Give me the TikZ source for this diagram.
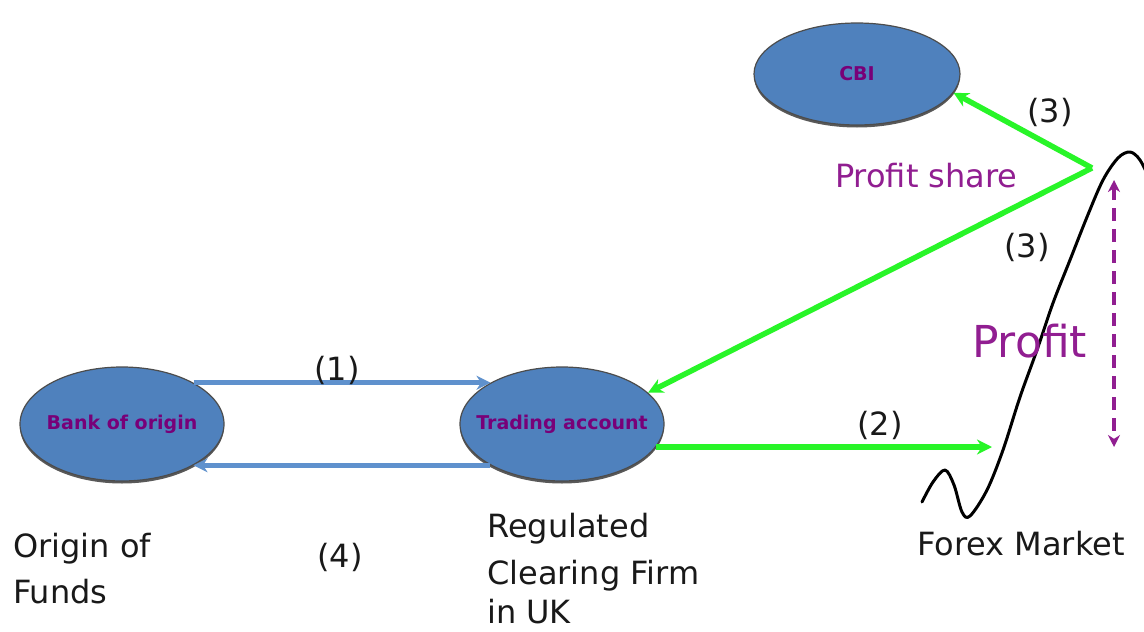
\documentclass[tikz,border=0pt]{standalone}
\usepackage{fontspec}
\setmainfont{DejaVu Sans}
\usetikzlibrary{shapes.geometric,arrows.meta,shadows}
\definecolor{ellblue}{RGB}{79,129,189}
\definecolor{arrblue}{RGB}{95,145,205}
\definecolor{bright}{RGB}{40,245,40}
\definecolor{purp}{RGB}{145,30,145}
\definecolor{dpurp}{RGB}{120,0,120}
\begin{document}
\begin{tikzpicture}[x=1pt,y=-1pt,
  ell/.style={ellipse, fill=ellblue, draw=black!70, line width=1.2pt, inner sep=0pt,
    minimum width=204pt, minimum height=114pt, text=dpurp,
    drop shadow={shadow xshift=0pt, shadow yshift=-2.5pt, fill=black!65, opacity=1},
    font=\bfseries\fontsize{19}{22}\selectfont},
  lbl/.style={font=\fontsize{32}{46}\selectfont, inner sep=0pt, text=black!90},
  lline/.style={lbl, anchor=base west},
  blarrow/.style={draw=arrblue, line width=5pt, -{Stealth[length=14pt,width=14pt]}},
  grarrow/.style={draw=bright, line width=5.5pt, -{Stealth[length=15pt,width=15pt]}},
  pdash/.style={draw=purp, line width=4.5pt, dash pattern=on 13pt off 8pt,
    {Stealth[length=12pt,width=12pt]}-{Stealth[length=12pt,width=12pt]}}
]
\useasboundingbox[fill=white] (0,0) rectangle (1144,632);
\begin{scope}
\clip (0,0) rectangle (1144,632);

% ellipses
\node[ell] (bank) at (122,424) {\makebox[0pt]{Bank of origin}};
\node[ell] (trade) at (562,424) {\makebox[0pt]{Trading account}};
\node[ell, minimum width=206pt, minimum height=102pt] (cbi) at (857,74) {\makebox[0pt]{CBI}};

% blue arrows
\draw[blarrow] (bank.30) -- (trade.150);
\draw[blarrow] (trade.210) -- (bank.330);
\node[lbl] (l1) at (337,370) {(1)};
\node[lbl] (l4) at (340,557) {(4)};

% market curve
\draw[line width=3pt, line cap=round, line join=round, black]
  plot[smooth, tension=0.55] coordinates {(922,502) (933,482) (945,470) (954,485) (962,512) (970,516) (987,490) (1003,450) (1020,397) (1037,350) (1053,303) (1070,260) (1087,217) (1103,180) (1118,158) (1130,152) (1140,160) (1150,180)};

% green arrows
\coordinate (m2) at (992,447);
\draw[grarrow] (trade.-14 |- m2) -- (m2);
\node[lbl] (l2) at (880,425) {(2)};

\coordinate (v) at (1092,168);
\draw[grarrow] (v) -- (trade.20);
\draw[grarrow] (v) -- (cbi.-11);
\node[lbl] (l3a) at (1050,112) {(3)};
\node[lbl] (l3b) at (1027,247) {(3)};

% profit
\coordinate (pt) at (1114,180);
\coordinate (pb) at (1114,447);
\draw[pdash] (pt) -- (pb);
\node[lline, text=purp] (ps) at (835,187) {Profit share};
\node[lline, text=purp, font=\fontsize{44}{50}\selectfont] (pf) at (972,357) {Profit};

% texts
\node[lline] (fm) at (917,555) {Forex Market};
\node[lline] (o1) at (13,557) {Origin of};
\node[lline] (o2) at (13,603) {Funds};
\node[lline] (r1) at (487,537) {Regulated};
\node[lline] (r2) at (487,584) {Clearing Firm};
\node[lline] (r3) at (487,623) {in UK};
\end{scope}
\end{tikzpicture}
\end{document}
